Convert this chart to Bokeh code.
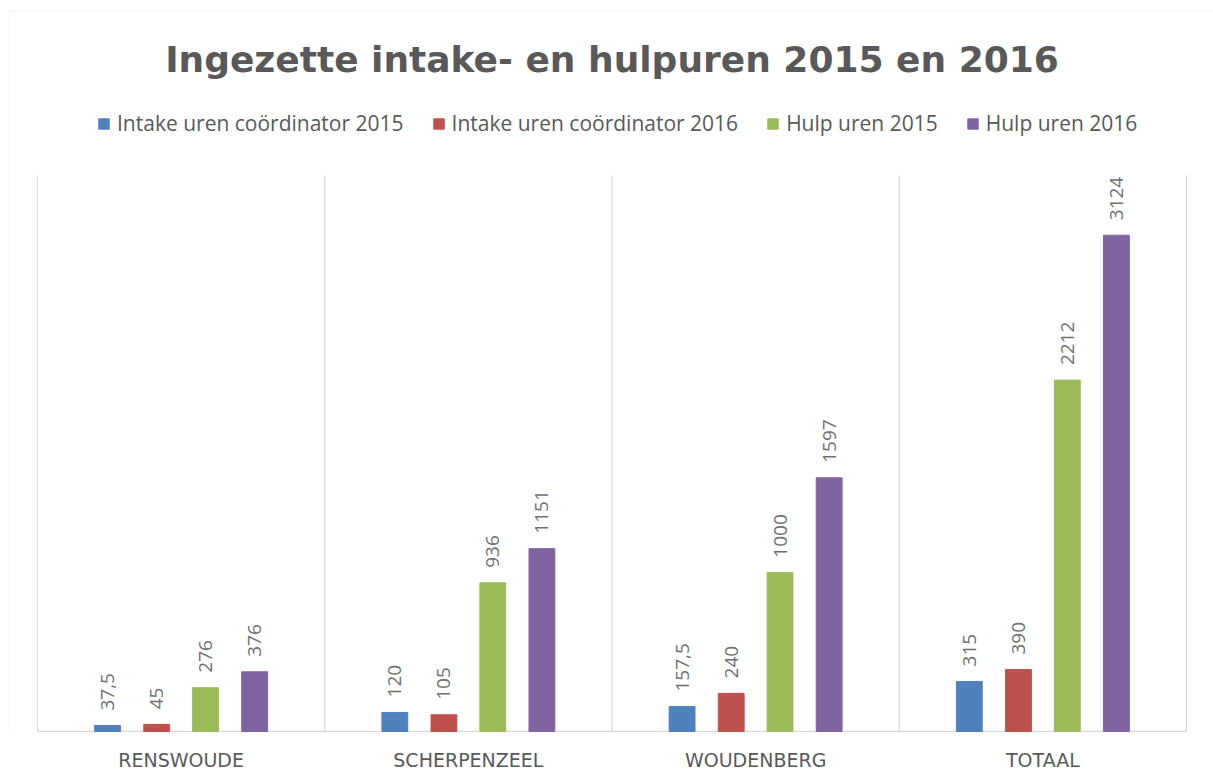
import math
from bokeh.plotting import figure
from bokeh.models import (Range1d, FixedTicker, ColumnDataSource, LabelSet, Legend,
                          LegendItem, Label, BoxAnnotation)
from bokeh.core.properties import value
from bokeh.embed import file_html
from bokeh.resources import INLINE

# ---------------- data ----------------
title_text = "Ingezette intake- en hulpuren 2015 en 2016"
categories = ["RENSWOUDE", "SCHERPENZEEL", "WOUDENBERG", "TOTAAL"]
series_names = ["Intake uren coördinator 2015", "Intake uren coördinator 2016",
                "Hulp uren 2015", "Hulp uren 2016"]
intake_2015 = [37.5, 120, 157.5, 315]
intake_2016 = [45, 105, 240, 390]
hulp_2015 = [276, 936, 1000, 2212]
hulp_2016 = [376, 1151, 1597, 3124]
series_values = [intake_2015, intake_2016, hulp_2015, hulp_2016]
y_axis_max = 3500
colors = ["#4F81BD", "#C0504D", "#9BBB59", "#8064A2"]

# ---------------- layout (pixels) ----------------
W, H = 1213, 779
PL, PR, PT, PB = 37, 1186, 175, 731      # plot-area edges on the page
FW, FH = W, 732                          # frame (from canvas top-left)
n = len(categories)
xpp = n / (PR - PL)                      # data units per pixel
ypp = y_axis_max / (PB - PT)
x_start = -PL * xpp
x_end = x_start + FW * xpp
y_start = -(FH - PB) * ypp
y_end = y_start + FH * ypp

p = figure(width=W, height=H, x_range=Range1d(x_start, x_end), y_range=Range1d(y_start, y_end),
           output_backend="svg", toolbar_location=None, y_axis_location=None,
           min_border_left=0, min_border_right=0, min_border_top=0,
           min_border_bottom=H - FH,
           background_fill_color="white", border_fill_color="white")
p.outline_line_color = None
p.xgrid.visible = False
p.ygrid.visible = False

# category separators (vertical grid lines) and baseline
bounds = list(range(n + 1))
p.segment(x0=bounds, y0=[0] * len(bounds), x1=bounds, y1=[y_axis_max] * len(bounds),
          line_color="#d9d9d9", line_width=1.2)
p.segment(x0=[0], y0=[0], x1=[n], y1=[0], line_color="#d9d9d9", line_width=1.5)

p.xaxis.ticker = FixedTicker(ticks=[i + 0.5 for i in range(n)])
p.xaxis.major_label_overrides = {i + 0.5: c for i, c in enumerate(categories)}
p.xaxis.axis_line_color = None
p.xaxis.major_tick_line_color = None
p.xaxis.minor_tick_line_color = None
p.xaxis.major_label_text_font = "DejaVu Sans"
p.xaxis.major_label_text_font_size = "19px"
p.xaxis.major_label_text_color = "#595959"
p.xaxis.major_label_standoff = 10

offsets = [-0.256, -0.085, 0.085, 0.256]
bar_w = 0.09
items = []
for name, vals, col, off in zip(series_names, series_values, colors, offsets):
    xs = [i + 0.5 + off for i in range(n)]
    labels = [("%g" % v).replace(".", ",") for v in vals]
    src = ColumnDataSource(dict(x=xs, top=vals, lab=labels))
    r = p.vbar(x="x", top="top", width=bar_w, bottom=0, source=src,
               fill_color=col, line_color=col)
    items.append(LegendItem(label=name, renderers=[r]))
    ls = LabelSet(x="x", y="top", text="lab", source=src, angle=math.pi / 2,
                  y_offset=15, text_align="left", text_baseline="middle",
                  text_font=value("Open Sans"), text_font_size=value("19px"),
                  text_color="#707070")
    p.add_layout(ls)

legend = Legend(items=items, orientation="horizontal", location=(97, FH - 137),
                padding=0, margin=0, spacing=28, label_standoff=7,
                glyph_width=13, glyph_height=13, label_height=20,
                label_text_font="Open Sans", label_text_font_size="21px",
                label_text_color="#595959", border_line_color=None,
                background_fill_alpha=0)
p.add_layout(legend, "center")

title = Label(x=(PL + PR) / 2, y=FH - 59, x_units="screen", y_units="screen",
              text=title_text, text_align="center", text_baseline="alphabetic",
              text_font="DejaVu Sans", text_font_style="bold", text_font_size="36px",
              text_color="#595959")
p.add_layout(title)

frame_box = BoxAnnotation(left=8.5, right=W + 50, top=FH - 10.5, bottom=-300,
                          left_units="screen", right_units="screen",
                          top_units="screen", bottom_units="screen",
                          fill_color=None, fill_alpha=0, line_color="#d9d9d9", line_width=1)
p.add_layout(frame_box)

open("out.html", "w").write(file_html(p, INLINE))
